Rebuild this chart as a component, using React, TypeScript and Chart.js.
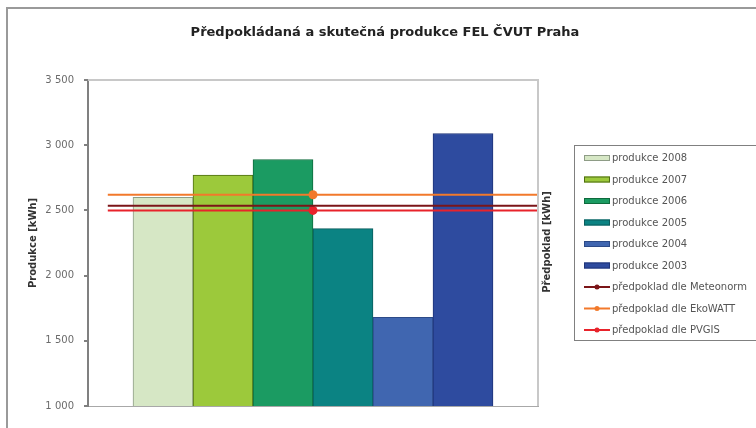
import React, { useEffect, useRef } from "react";
import { Chart, registerables } from "chart.js";

Chart.register(...registerables);

const TITLE = "Předpokládaná a skutečná produkce FEL ČVUT Praha";
const LEFT_AXIS_TITLE = "Produkce [kWh]";
const RIGHT_AXIS_TITLE = "Předpoklad [kWh]";

const barLabels = [
  "produkce 2008",
  "produkce 2007",
  "produkce 2006",
  "produkce 2005",
  "produkce 2004",
  "produkce 2003",
];
const barValues = [2600, 2770, 2890, 2360, 1680, 3090];
const barColors = ["#d6e7c5", "#9cc93b", "#1b9b62", "#0b8383", "#4066b0", "#2e4b9f"];
const barBorders = ["#8e9c86", "#4d6b12", "#0e6a3c", "#0a5c5c", "#2c4a88", "#1f3478"];

const lineLabels = [
  "předpoklad dle Meteonorm",
  "předpoklad dle EkoWATT",
  "předpoklad dle PVGIS",
];
const lineValues = [2535, 2620, 2500];
const lineColors = ["#7b1518", "#f2792b", "#e8232b"];
const lineMarkerShown = [false, true, true];
// horizontal extent of the forecast lines in bar-slot units: start, marker, end
const lineXs = [-0.92, 2.5, 6.25];

const xMin = -1.25;
const xMax = 6.25;
const yMin = 1000;
const yMax = 3500;
const yStep = 500;

const fmt = (v: number) =>
  String(v).replace(/\B(?=(\d{3})+(?!\d))/g, " ");

const decorPlugin = {
  id: "decor",
  beforeDraw(chart: any) {
    const { ctx, width, height } = chart;
    ctx.save();
    ctx.fillStyle = "#ffffff";
    ctx.fillRect(0, 0, width, height);
    ctx.strokeStyle = "#9a9a9a";
    ctx.lineWidth = 2;
    ctx.strokeRect(7, 8, width + 50, height + 50);
    ctx.restore();
  },
  afterDraw(chart: any) {
    const { ctx, chartArea } = chart;
    ctx.save();
    ctx.strokeStyle = "#c8c8c8";
    ctx.lineWidth = 2;
    ctx.beginPath();
    ctx.moveTo(chartArea.left, chartArea.top);
    ctx.lineTo(chartArea.right, chartArea.top);
    ctx.lineTo(chartArea.right, chartArea.bottom);
    ctx.stroke();

    ctx.fillStyle = "#222";
    ctx.font = "bold 13px 'DejaVu Sans', sans-serif";
    ctx.textAlign = "center";
    ctx.textBaseline = "middle";
    ctx.fillText(TITLE, 385, 33);

    ctx.save();
    ctx.translate(547, 242);
    ctx.rotate(-Math.PI / 2);
    ctx.font = "bold 10px 'DejaVu Sans', sans-serif";
    ctx.fillStyle = "#333";
    ctx.fillText(RIGHT_AXIS_TITLE, 0, 0);
    ctx.restore();

    const lx = 574, ly = 145, lw = 220, lh = 195;
    ctx.fillStyle = "#ffffff";
    ctx.fillRect(lx, ly, lw, lh);
    ctx.strokeStyle = "#808080";
    ctx.lineWidth = 1;
    ctx.strokeRect(lx + 0.5, ly + 0.5, lw, lh);
    const items: any[] = [];
    barLabels.forEach((l, i) => items.push({ type: "bar", label: l, fill: barColors[i], border: barBorders[i] }));
    lineLabels.forEach((l, i) => items.push({ type: "line", label: l, color: lineColors[i] }));
    ctx.font = "10px 'DejaVu Sans', sans-serif";
    ctx.textAlign = "left";
    ctx.textBaseline = "middle";
    items.forEach((it, i) => {
      const y = 158 + i * 21.5;
      if (it.type === "bar") {
        ctx.fillStyle = it.fill;
        ctx.fillRect(584, y - 3, 26, 6);
        ctx.strokeStyle = it.border;
        ctx.lineWidth = 1;
        ctx.strokeRect(584.5, y - 2.5, 25, 5);
      } else {
        ctx.strokeStyle = it.color;
        ctx.lineWidth = 2;
        ctx.beginPath();
        ctx.moveTo(584, y);
        ctx.lineTo(610, y);
        ctx.stroke();
        ctx.fillStyle = it.color;
        ctx.beginPath();
        ctx.arc(597, y, 2.5, 0, Math.PI * 2);
        ctx.fill();
      }
      ctx.fillStyle = "#555";
      ctx.fillText(it.label, 612, y + 0.5);
    });
    ctx.restore();
  },
};

export default function App() {
  const ref = useRef<HTMLCanvasElement | null>(null);
  useEffect(() => {
    if (!ref.current) return;
    const barDataset = {
      type: "bar" as const,
      label: "produkce",
      data: barValues.map((y, i) => ({ x: i, y })),
      backgroundColor: barColors,
      borderColor: barBorders,
      borderWidth: 1,
      barThickness: "flex",
      categoryPercentage: 1,
      barPercentage: 1,
      order: 1,
    };
    const lineDatasets = lineLabels.map((label, i) => ({
      type: "line" as const,
      label,
      data: lineXs.map((x) => ({ x, y: lineValues[i] })),
      borderColor: lineColors[i],
      backgroundColor: lineColors[i],
      borderWidth: 2,
      pointRadius: lineXs.map((_, k) => (k === 1 && lineMarkerShown[i] ? 4.5 : 0)),
      pointBorderWidth: 0,
      order: 0,
    }));
    const chart = new Chart(ref.current, {
      type: "bar",
      data: {
        datasets: [barDataset, ...lineDatasets] as any,
      },
      options: {
        animation: false,
        responsive: false,
        layout: { padding: { left: 0, top: 80, right: 218, bottom: 22 } },
        plugins: {
          legend: { display: false },
          title: { display: false },
          tooltip: { enabled: false },
        },
        scales: {
          x: {
            type: "linear",
            min: xMin,
            max: xMax,
            offset: false,
            ticks: { display: false },
            grid: { display: false },
            border: { color: "#a8a8a8", width: 1 },
            afterFit: (s: any) => {
              s.height = 0;
            },
          },
          y: {
            type: "linear",
            min: yMin,
            max: yMax,
            ticks: {
              stepSize: yStep,
              padding: 10,
              color: "#6b6b6b",
              font: { family: "'DejaVu Sans', sans-serif", size: 10 },
              callback: (v: any) => fmt(Number(v)),
            },
            grid: {
              drawOnChartArea: false,
              drawTicks: true,
              tickLength: 4,
              color: "#808080",
              lineWidth: 2,
            },
            border: { color: "#808080", width: 2 },
            title: {
              display: true,
              text: LEFT_AXIS_TITLE,
              color: "#333",
              font: { family: "'DejaVu Sans', sans-serif", size: 10, weight: "bold" },
              padding: { top: 27, bottom: 0 },
            },
            afterFit: (s: any) => {
              s.width = 88;
            },
          },
        },
      },
      plugins: [decorPlugin],
    } as any);
    return () => chart.destroy();
  }, []);
  return (
    <div style={{ position: "absolute", left: 0, top: 0, width: 756, height: 428 }}>
      <canvas ref={ref} width={756} height={428} style={{ width: 756, height: 428, display: "block" }} />
    </div>
  );
}
